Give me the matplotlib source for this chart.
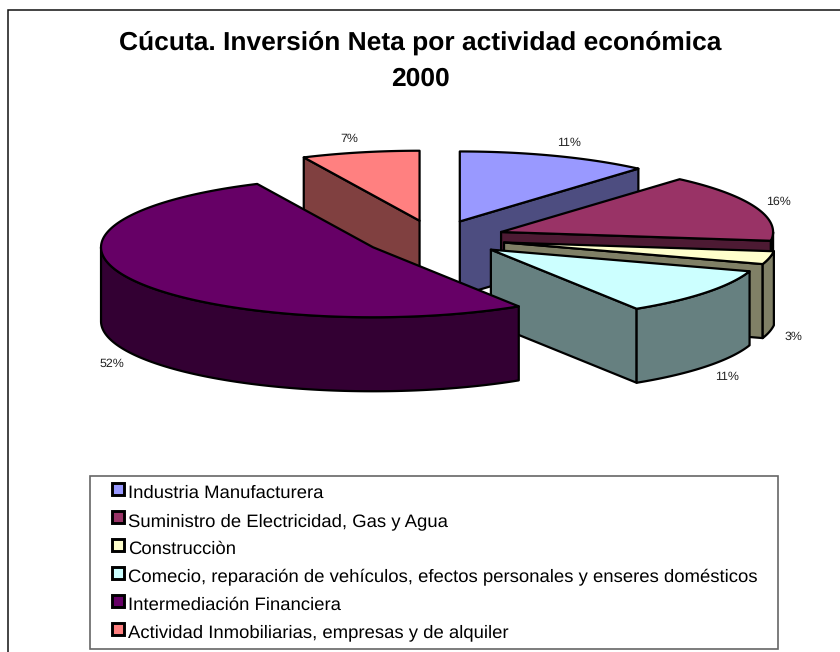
# -*- coding: utf-8 -*-

import numpy as np
import matplotlib as mpl
mpl.use('Agg')
import matplotlib.pyplot as plt
from matplotlib.legend_handler import HandlerPatch
from matplotlib.patches import Patch, Polygon, Rectangle

mpl.rcParams.update({
    "font.family": ["Liberation Sans", "DejaVu Sans"],
    "text.hinting": "no_hinting",
})

# data
categories = [
    "Industria Manufacturera",
    "Suministro de Electricidad, Gas y Agua",
    "Construcciòn",
    "Comecio, reparación de vehículos, efectos personales y enseres domésticos",
    "Intermediación Financiera",
    "Actividad Inmobiliarias, empresas y de alquiler",
]
shares = [11.4, 15.6, 3, 11, 52, 7]
colors = ["#9999FF", "#993366", "#FFFFCC", "#CCFFFF", "#660066", "#FF8080"]
side_colors = ["#4D4D80", "#4D1A33", "#808066", "#668080", "#330033", "#804040"]
title = "Cúcuta. Inversión Neta por actividad económica\n2000"

# pie geometry, in pixels
cx, cy = 435, 238.5
rx, ry = 272, 70
depth = 74
explode = 0.26

fig = plt.figure(figsize=(8.4, 6.52), dpi=100)
ax = fig.add_axes([0, 0, 1, 1])
ax.set_xlim(0, 840)
ax.set_ylim(652, 0)
ax.axis('off')

# chart frame runs off the right and bottom of the picture
ax.add_patch(Rectangle((8, 10), 900, 700, fc='white', ec='#111111', lw=1.1))

ax.text(420, 61, title, ha='center', va='center', fontsize=19, fontweight='bold',
        linespacing=1.63)


def rim(ox, oy, a0, a1, drop=0):
    t = np.radians(np.linspace(a0, a1, max(int(abs(a1 - a0)) * 2, 2)))
    return np.column_stack([ox + rx * np.sin(t), oy - ry * np.cos(t) + drop])


edges = np.cumsum([0] + shares) * 3.6
lw = 1.6

# back to front
for i in [5, 0, 1, 2, 3, 4]:
    a0, a1 = edges[i], edges[i + 1]
    mid = np.radians((a0 + a1) / 2)
    ox = cx + explode * rx * np.sin(mid)
    oy = cy - explode * ry * np.cos(mid)

    # radial wall that faces the viewer
    for a, show in ((a1, a1 < 180), (a0, a0 > 180)):
        if show:
            p = rim(ox, oy, a, a)[0]
            wall = [(ox, oy), p, (p[0], p[1] + depth), (ox, oy + depth)]
            ax.add_patch(Polygon(wall, fc=side_colors[i], ec='black', lw=lw, joinstyle='round'))

    # curved wall, front half only
    f0, f1 = max(a0, 90), min(a1, 270)
    if f1 > f0:
        top = rim(ox, oy, f0, f1)
        ax.add_patch(Polygon(np.vstack([top, top[::-1] + [0, depth]]), fc=side_colors[i],
                             ec='black', lw=lw, joinstyle='round'))

    # top face
    face = np.vstack([[(ox, oy)], rim(ox, oy, a0, a1)])
    ax.add_patch(Polygon(face, fc=colors[i], ec='black', lw=lw, joinstyle='round'))

    # percent label, just outside the rim
    lx = ox + rx * np.sin(mid) + 24 * np.sign(np.sin(mid)) * np.sqrt(abs(np.sin(mid)))
    ly = oy - ry * np.cos(mid) - 14 * np.cos(mid)
    if np.cos(mid) < 0:
        ly += depth + 2
    ax.text(lx, ly, "%.0f%%" % shares[i], ha='center', va='center', fontsize=8.9, color='#222222')


# small square pushed to the right end of the handle box
def square(legend, orig_handle, xdescent, ydescent, width, height, fontsize):
    side = 0.64 * fontsize
    return Rectangle((width - side - 0.5, height / 2 - side / 2 + 1.5), side, side)


# legend box drawn by hand, the built-in frame ends up too tall
ax.add_patch(Rectangle((90, 476), 688, 173, fc='white', ec='#666666', lw=1.2))

handles = [Patch(fc=c, ec='black', lw=2.1) for c in colors]
leg = ax.legend(handles, categories, loc='upper left', mode='expand',
                bbox_to_anchor=(90, 476, 688, 173), bbox_transform=ax.transData,
                ncol=1, fontsize=13.3, frameon=False, borderaxespad=0, borderpad=0.48,
                labelspacing=0.6, handlelength=1.38, handleheight=0.72, handletextpad=0.22,
                handler_map={Patch: HandlerPatch(patch_func=square)})

fig.savefig('out.png', dpi=100)
